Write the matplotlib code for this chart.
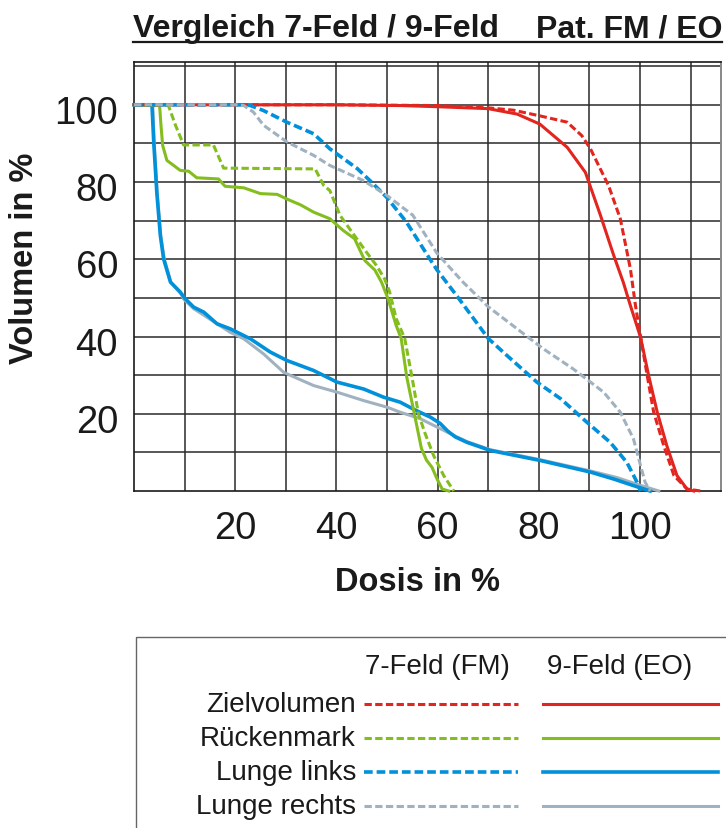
import matplotlib
matplotlib.use("Agg")
import matplotlib.pyplot as plt
from matplotlib.lines import Line2D
from matplotlib.patches import Rectangle
from matplotlib.transforms import ScaledTranslation

plt.rcParams['font.family'] = ['Liberation Sans', 'DejaVu Sans']

# ---- dose-volume histograms (dose in %, volume in %) ----
# Zielvolumen
ziel7_dose = [0, 40, 60, 70, 75, 80.3, 85.6, 88.5, 90.2, 93.8, 96.1, 98.1, 99.1, 100.1, 101.4, 102.7, 104.7, 106.7, 109.3, 112]
ziel7_vol = [100, 100, 99.8, 99.2, 98.6, 97.1, 95.5, 92, 88.6, 79, 70.5, 57.5, 48, 40, 30, 20.4, 11.7, 4, 0.5, 0]
ziel9_dose = [0, 40, 52.6, 60, 70, 75.7, 80.2, 85.6, 89.2, 92.2, 94.8, 96.7, 98.1, 100.1, 101.7, 103.4, 105.3, 107.3, 109.3, 110.6]
ziel9_vol = [100, 100, 99.8, 99.5, 99, 97.6, 95, 89, 82.5, 71.3, 61, 54, 48, 39.8, 29.9, 20.4, 11.7, 4, 0.5, 0]

# Rückenmark
rm7_dose = [0, 5.3, 6.8, 8.2, 9.8, 15.7, 17.7, 35.8, 37.5, 38.7, 40.7, 42.6, 45.9, 47.9, 49.5, 50.5, 51.8, 53.5, 55.0, 56.2, 57.5, 59.2, 61.2, 63.2]
rm7_vol = [100, 100, 99.8, 94.7, 89.6, 89.6, 83.6, 83.4, 79.1, 77.8, 71.4, 67.9, 61.9, 58.4, 55.0, 51.6, 44.7, 39.5, 29, 20, 15, 9.2, 4, 0]
rm9_dose = [0, 5.06, 5.33, 5.66, 6.5, 7.83, 9.15, 10.8, 12.4, 16.7, 18.0, 21.7, 25.0, 28.3, 30.2, 32.9, 35.5, 38.7,
            41.3, 43.6, 45.6, 47.6, 48.9, 50.2, 51.8, 52.8, 53.9, 55.4, 56.8, 57.8, 58.9, 59.9, 60.9, 62.2]
rm9_vol = [100, 99.8, 94.7, 89.5, 85.6, 84.3, 83.0, 82.8, 81.1, 80.8, 78.9, 78.5, 77.0, 76.8, 75.6, 74.1, 72.2, 70.5,
           67.5, 65.3, 59.7, 57.2, 54.1, 49.8, 42.9, 39.5, 29.5, 20, 11, 8, 6.1, 3.1, 0.5, 0]

# Lunge links
ll7_dose = [0, 22.3, 23, 25.6, 30.2, 35.5, 38.7, 44.1, 46.6, 49.9, 53.8, 58.4, 59.9, 63.7, 70.0, 73.6, 79.6, 84.3, 89.5, 94.1, 97.4, 99.4, 100.1]
ll7_vol = [100, 100, 99.8, 98.5, 95.5, 92.5, 88.6, 83.5, 80.4, 76.1, 69.7, 60.2, 57.2, 50.7, 39.5, 35.2, 28.2, 23.9, 17.8, 12.6, 7.4, 2.3, 0]
ll9_dose = [0, 3.55, 3.9, 4.5, 5.2, 5.85, 7.2, 9.15, 10.1, 11.8, 13.8, 16.4, 19.0, 23, 26.9, 30.2, 35.5, 40.1, 45.4, 49.3,
            52.6, 55.5, 58.6, 60.5, 62.0, 63.5, 65.8, 70.4, 80.3, 90.2, 94.8, 98.7, 102.0]
ll9_vol = [100, 100, 90.3, 77.4, 66.2, 60.1, 54.1, 51.5, 49.8, 47.6, 46.3, 43.3, 42.0, 39.4, 36.0, 33.8, 31.2, 28.2, 26.4, 24.3,
           23.0, 21.0, 19.1, 17.5, 15.5, 14.0, 12.6, 10.5, 7.9, 4.9, 3.1, 1.4, 0]

# Lunge rechts
lr7_dose = [0, 20.3, 21.7, 23.6, 25.6, 30.2, 35.5, 38.7, 45.3, 49.9, 55.1, 59.9, 65.0, 70.0, 78.2, 80.9, 86.8, 92.8, 96.1, 98.7, 100.1, 101, 102]
lr7_vol = [100, 100, 99.8, 98.1, 94.7, 90.4, 86.9, 84.3, 80.4, 76.6, 71.4, 61.5, 54.1, 47.7, 39.5, 36.8, 31.6, 25.6, 20.4, 13.5, 6.6, 2.3, 0]
lr9_dose = [0, 3.7, 4.0, 4.6, 5.3, 6.0, 7.3, 9.3, 9.8, 11.8, 14.4, 19.0, 21.7, 25.6, 29.6, 35.5, 40.1, 45.4, 50.0, 52.6,
            56.6, 61.2, 63.5, 65.8, 70.4, 80.3, 90.2, 95.4, 100, 103.7]
lr9_vol = [100, 100, 90, 77, 66, 60, 54, 51, 49.7, 47.2, 45.0, 41.1, 39.4, 35.5, 30.7, 27.3, 25.6, 23.4, 21.7, 20.4,
           18.7, 15.7, 14.2, 12.8, 10.7, 8.1, 5.2, 3.5, 1.5, 0]

x_ticks = [10, 20, 30, 40, 50, 60, 70, 80, 90, 100, 110]
x_tick_labels = ['', '20', '', '40', '', '60', '', '80', '', '100', '']
y_ticks = [10, 20, 30, 40, 50, 60, 70, 80, 90, 100, 110]
y_tick_labels = ['', '20', '', '40', '', '60', '', '80', '', '100', '']

organs = ['Zielvolumen', 'Rückenmark', 'Lunge links', 'Lunge rechts']
colors = ['#e2251e', '#84be1e', '#0091da', '#a0b2c0']
widths = [2.2, 2.2, 2.6, 2.2]
DASH = (2.4, 1.1)

W, H = 726, 829
fig = plt.figure(figsize=(W / 100, H / 100), dpi=100)
fig.patch.set_facecolor('white')


def fx(px):
    return px / W


def fy(py):
    return 1 - py / H


ax = fig.add_axes([fx(134), fy(492), (721 - 134) / W, (492 - 63.3) / H])
ax.set_xlim(0, 116)
ax.set_ylim(0, 111)
ax.set_xticks(x_ticks)
ax.set_xticklabels(x_tick_labels)
ax.set_yticks(y_ticks)
ax.set_yticklabels(y_tick_labels)
ax.tick_params(axis='both', length=0, labelsize=27.5, colors='#1a1a1a')
ax.tick_params(axis='x', pad=14)
ax.tick_params(axis='y', pad=11.5)
ax.grid(True, color='#2a2a2a', linewidth=1.1, zorder=1)
ax.set_axisbelow(True)
for side in ['left', 'bottom', 'top']:
    ax.spines[side].set_color('#1a1a1a')
    ax.spines[side].set_linewidth(1.2)
ax.spines['right'].set_color('#888888')
ax.spines['right'].set_linewidth(1.4)

for lab in ax.get_yticklabels():
    lab.set_transform(lab.get_transform() + ScaledTranslation(0, -4 / 100, fig.dpi_scale_trans))

series = [
    (ziel7_dose, ziel7_vol, ziel9_dose, ziel9_vol),
    (rm7_dose, rm7_vol, rm9_dose, rm9_vol),
    (ll7_dose, ll7_vol, ll9_dose, ll9_vol),
    (lr7_dose, lr7_vol, lr9_dose, lr9_vol),
]

# solid curves (9-Feld) underneath, gray first so blue lies on top
for i in [3, 2, 1, 0]:
    _, _, d9, v9 = series[i]
    ax.plot(d9, v9, color=colors[i], lw=widths[i], solid_joinstyle='round', zorder=3, clip_on=False)
# dashed curves (7-Feld)
for i in [0, 1, 2, 3]:
    d7, v7, _, _ = series[i]
    ax.plot(d7, v7, color=colors[i], lw=widths[i], linestyle=(0, DASH), zorder=4, clip_on=False)

# axis titles
fig.text(fx(417.5), fy(582.5), 'Dosis in %', fontsize=23.5, fontweight='bold',
         ha='center', va='center', color='#1a1a1a')
fig.text(fx(25), fy(258), 'Volumen in %', fontsize=23.5, fontweight='bold',
         ha='center', va='center', rotation=90, color='#1a1a1a')

# underlined heading
fig.text(fx(133), fy(37), 'Vergleich 7-Feld / 9-Feld', fontsize=23, fontweight='bold',
         ha='left', va='baseline', color='#1a1a1a')
fig.text(fx(722), fy(37), 'Pat. FM / EO', fontsize=23, fontweight='bold',
         ha='right', va='baseline', color='#1a1a1a')
fig.add_artist(Line2D([fx(133), fx(722)], [fy(42.5), fy(42.5)], color='#1a1a1a', lw=1.6))

# legend panel
leg = fig.add_axes([0, 0, 1, 1], facecolor='none')
leg.set_xlim(0, W)
leg.set_ylim(H, 0)
leg.axis('off')
leg.add_patch(Rectangle((136, 637.5), 700, 300, fill=False, edgecolor='#666666', lw=1.0))
leg.text(437, 667, '7-Feld (FM)', fontsize=20, ha='center', va='center', color='#1a1a1a')
leg.text(620, 667, '9-Feld (EO)', fontsize=20, ha='center', va='center', color='#1a1a1a')
row_y = [705, 739, 773, 807]
for i, name in enumerate(organs):
    y = row_y[i]
    leg.text(356, y, name, fontsize=20, ha='right', va='center', color='#1a1a1a')
    leg.plot([364, 518], [y, y], color=colors[i], lw=widths[i], linestyle=(0, DASH))
    leg.plot([543, 718], [y, y], color=colors[i], lw=widths[i])

fig.savefig('out.png', dpi=100, facecolor='white')
